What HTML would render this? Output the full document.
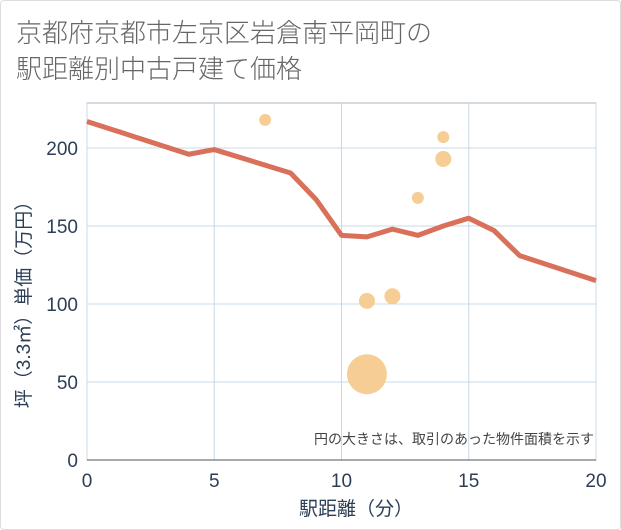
<!DOCTYPE html>
<html><head><meta charset="utf-8"><style>
body{margin:0;width:621px;height:530px;background:#fff;overflow:hidden}
.frame{position:absolute;left:0;top:0;width:619px;height:528px;border:1px solid #ddd;border-radius:4px}
.title{position:absolute;left:16px;top:15px;font:26px "Liberation Sans","Noto Sans CJK JP",sans-serif;color:#666;line-height:36px;font-weight:300;white-space:nowrap}
svg{position:absolute;left:0;top:0}
text{font-family:"Liberation Sans","Noto Sans CJK JP",sans-serif}
</style></head><body>
<div class="frame"></div>
<div class="title">京都府京都市左京区岩倉南平岡町の<br>駅距離別中古戸建て価格</div>
<svg id="c" width="621" height="530"></svg>
<script>
const lineX=[0,4,5,8,9,10,11,12,13,14,15,16,17,20];
const lineY=[217,196,199,184,167,144,143,148,144,150,155,147,131,115];
const bubX=[7,14,14,13,11,12,11];
const bubY=[218,207,193,168,102,105,55];
const bubR=[6,6,8,6,8,8,20];
const xTicks=[0,5,10,15,20];
const yTicks=[0,50,100,150,200];
const L=87,R=596,T=103,B=460;
const sx=v=>L+(R-L)*v/20, sy=v=>B-(B-148)*v/200;
const s=document.getElementById('c'),NS='http://www.w3.org/2000/svg';
function mk(t,a,p){const e=document.createElementNS(NS,t);for(const k in a)e.setAttribute(k,a[k]);(p||s).appendChild(e);return e;}
let e;
e=mk('rect',{x:L,y:T,width:R-L,height:B-T,fill:'#fff',stroke:'#aab4c0','stroke-width':1});


xTicks.forEach(v=>{
 e=mk('line',{x1:sx(v),x2:sx(v),y1:T,y2:B,stroke:'#c8d8e8'});
 
 
 e=mk('text',{x:sx(v),y:487,'text-anchor':'middle','font-size':19,fill:'#2c3e55'});e.textContent=v;
 
 
});
yTicks.forEach(v=>{
 e=mk('line',{x1:L,x2:R,y1:sy(v),y2:sy(v),stroke:'#c8d8e8'});
 
 
 e=mk('text',{x:78,y:sy(v)+7,'text-anchor':'end','font-size':19,fill:'#2c3e55'});e.textContent=v;
 
 
});
e=mk('line',{x1:L,x2:R,y1:B,y2:B,stroke:'#555'});


bubX.forEach((v,i)=>{
 e=mk('circle',{cx:sx(v),cy:sy(bubY[i]),r:bubR[i],fill:'#f5c98a',opacity:0.9});
 
 
});
e=mk('polyline',{points:lineX.map((v,i)=>sx(v)+','+sy(lineY[i])).join(' '),fill:'none',stroke:'#d9705a','stroke-width':5,'stroke-linejoin':'round'});


e=mk('text',{x:594,y:444,'text-anchor':'end','font-size':14,fill:'#444'});e.textContent='円の大きさは、取引のあった物件面積を示す';


e=mk('text',{x:356,y:515,'text-anchor':'middle','font-size':19,fill:'#2c3e55'});e.textContent='駅距離（分）';


e=mk('text',{x:0,y:0,'text-anchor':'middle','font-size':19,fill:'#2c3e55',transform:'translate(30,300) rotate(-90)'});e.textContent='坪（3.3㎡）単価（万円）';


</script>
</body></html>
